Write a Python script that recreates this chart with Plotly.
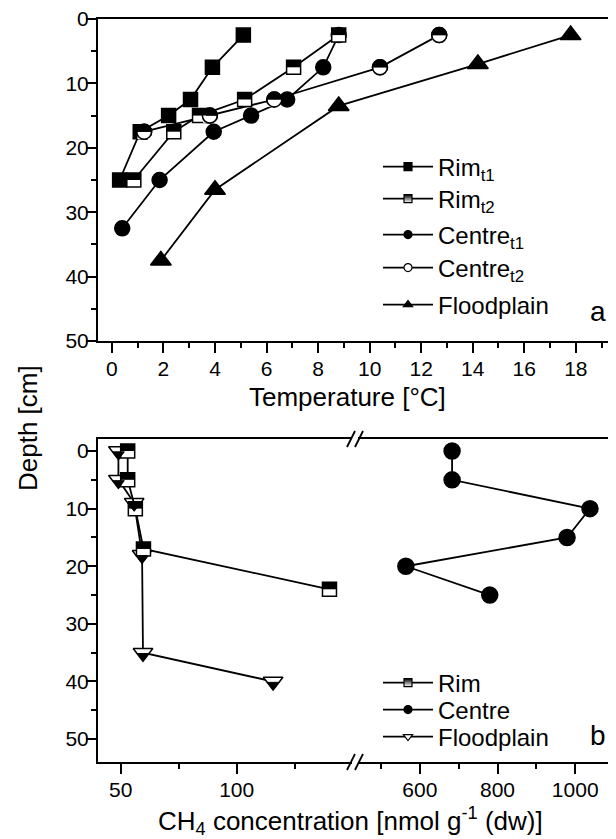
import plotly.graph_objects as go

# ---- panel a: temperature profiles (depth in cm, temperature in degC) ----
RIM_T1_DEPTH = [2.5, 7.5, 12.5, 15, 17.5, 25]
RIM_T1_TEMP = [5.1, 3.9, 3.05, 2.2, 1.1, 0.3]
RIM_T2_DEPTH = [2.5, 7.5, 12.5, 15, 17.5, 25]
RIM_T2_TEMP = [8.8, 7.05, 5.15, 3.4, 2.4, 0.85]
CENTRE_T1_DEPTH = [2.5, 7.5, 12.5, 15, 17.5, 25, 32.5]
CENTRE_T1_TEMP = [8.8, 8.2, 6.8, 5.4, 3.95, 1.85, 0.4]
CENTRE_T2_DEPTH = [2.5, 7.5, 12.5, 15, 17.5]
CENTRE_T2_TEMP = [12.7, 10.4, 6.3, 3.8, 1.25]
FLOOD_T_DEPTH = [2.5, 7, 13.5, 26.5, 37.5]
FLOOD_TEMP = [17.8, 14.2, 8.8, 4.0, 1.9]

# ---- panel b: CH4 concentration profiles (nmol g-1 dw) ----
RIM_CH4_DEPTH = [0, 5, 10, 17, 24]
RIM_CH4 = [53, 53, 56.3, 59.8, 140]
CENTRE_CH4_DEPTH = [0, 5, 10, 15, 20, 25]
CENTRE_CH4 = [683, 683, 1038, 979, 564, 780]
FLOOD_CH4_DEPTH = [0, 5, 9, 18, 35, 40]
FLOOD_CH4 = [49, 49, 55.8, 59.2, 59.6, 115.7]

CH4_LOW_TICKS = [50, 100]
CH4_LOW_MINOR = [75, 125]

# ---- layout geometry (page pixels; the html body adds an 8 px margin) ----
PAGE_OFFSET = 8
FIG_W, FIG_H = 608, 831
MARGIN = dict(l=90, r=0, t=11, b=77)
PLOT_W = FIG_W - MARGIN["l"] - MARGIN["r"]
PLOT_H = FIG_H - MARGIN["t"] - MARGIN["b"]
PLOT_LEFT = PAGE_OFFSET + MARGIN["l"]
PLOT_BOTTOM = PAGE_OFFSET + FIG_H - MARGIN["b"]
TOP_DOMAIN = [0.5666, 1.0]
BOTTOM_DOMAIN = [0.0, 0.4347]
BREAK = 0.4961

TEMP_RANGE = [-0.54, 19.56]
DEPTH_A_RANGE = [50, 0]
CH4_LOW_RANGE = [40.2, 151]
CH4_HIGH_RANGE = [433, 1105]
DEPTH_B_RANGE = [53.97, -2.08]

FONT = "Arial, Liberation Sans, sans-serif"
LINE = dict(color="black", width=1.8)
OUTLINE = dict(color="black", width=1.5)


def px_x(px: float) -> float:
    return (px - PLOT_LEFT) / PLOT_W


def px_y(px: float) -> float:
    return (PLOT_BOTTOM - px) / PLOT_H


def shifted(rng: list[float], domain: list[float], px: float) -> list[float]:
    """Range of an overlay axis whose markers sit ``px`` pixels higher (reversed axis)."""
    per_px = abs(rng[0] - rng[1]) / ((domain[1] - domain[0]) * PLOT_H)
    return [rng[0] + px * per_px, rng[1] + px * per_px]


def profile(x, y, symbol, size, fill, xaxis, yaxis) -> go.Scatter:
    return go.Scatter(
        x=x, y=y, mode="lines+markers", line=LINE,
        marker=dict(symbol=symbol, size=size, color=fill, line=OUTLINE),
        xaxis=xaxis, yaxis=yaxis, showlegend=False, hoverinfo="skip",
    )


def patch(x, y, symbol, size, color, width, xaxis, yaxis) -> go.Scatter:
    """Marker-only trace used to half-fill the symbols of another trace."""
    return go.Scatter(
        x=x, y=y, mode="markers",
        marker=dict(symbol=symbol, size=size, color=color, line=dict(color=color, width=width)),
        xaxis=xaxis, yaxis=yaxis, showlegend=False, hoverinfo="skip",
    )


fig = go.Figure()

# panel a -----------------------------------------------------------------
fig.add_traces([
    profile(FLOOD_TEMP, FLOOD_T_DEPTH, "triangle-up", 18, "black", "x", "y"),
    profile(CENTRE_T1_TEMP, CENTRE_T1_DEPTH, "circle", 15, "black", "x", "y"),
    profile(CENTRE_T2_TEMP, CENTRE_T2_DEPTH, "circle", 15, "black", "x", "y"),
    profile(RIM_T1_TEMP, RIM_T1_DEPTH, "square", 14, "black", "x", "y"),
    profile(RIM_T2_TEMP, RIM_T2_DEPTH, "square", 14, "white", "x", "y"),
    # top half of the Rim t2 squares
    patch(RIM_T2_TEMP, RIM_T2_DEPTH, "line-ew", 10, "black", 7, "x", "y3"),
    # bottom half of the Centre t2 circles blanked, then outline redrawn
    patch(CENTRE_T2_TEMP, CENTRE_T2_DEPTH, "line-ew", 9.6, "white", 7, "x", "y4"),
    go.Scatter(
        x=CENTRE_T2_TEMP, y=CENTRE_T2_DEPTH, mode="markers",
        marker=dict(symbol="circle-open", size=15, color="black", line=dict(color="black", width=1.5)),
        xaxis="x", yaxis="y5", showlegend=False, hoverinfo="skip",
    ),
])

# panel b -----------------------------------------------------------------
fig.add_traces([
    profile(FLOOD_CH4, FLOOD_CH4_DEPTH, "triangle-down", 17, "white", "x2", "y2"),
    profile(RIM_CH4, RIM_CH4_DEPTH, "square", 14, "white", "x2", "y2"),
    profile(CENTRE_CH4, CENTRE_CH4_DEPTH, "circle", 16, "black", "x3", "y2"),
    patch(RIM_CH4, RIM_CH4_DEPTH, "line-ew", 10, "black", 7, "x2", "y6"),
    go.Scatter(
        x=FLOOD_CH4, y=FLOOD_CH4_DEPTH, mode="markers",
        marker=dict(symbol="triangle-down", size=10.2, color="black", line=dict(color="black", width=1)),
        xaxis="x2", yaxis="y7", showlegend=False, hoverinfo="skip",
    ),
])

# legends: one per row so each row sits where the reference puts it --------
LEGEND_ROWS = [
    # name, symbol, fill, gradient, axes, row centre (page px)
    ("Rim<sub>t1</sub>", "square", "black", None, ("x", "y"), 167),
    ("Rim<sub>t2</sub>", "square", "black", "white", ("x", "y"), 199),
    ("Centre<sub>t1</sub>", "circle", "black", None, ("x", "y"), 235),
    ("Centre<sub>t2</sub>", "circle", "white", None, ("x", "y"), 268),
    ("Floodplain", "triangle-up", "black", None, ("x", "y"), 305),
    ("Rim", "square", "black", "white", ("x2", "y2"), 683),
    ("Centre", "circle", "black", None, ("x2", "y2"), 710),
    ("Floodplain", "triangle-down", "white", None, ("x2", "y2"), 737),
]
legend_layout = {}
for i, (name, symbol, fill, gradient, (xa, ya), row_y) in enumerate(LEGEND_ROWS, start=1):
    legend_id = "legend" if i == 1 else f"legend{i}"
    marker = dict(symbol=symbol, size=8, color=fill, line=dict(color="black", width=1.2))
    if gradient:
        marker["gradient"] = dict(type="vertical", color=gradient)
    fig.add_trace(go.Scatter(
        x=[None], y=[None], mode="lines+markers", name=name, line=LINE,
        marker=marker, legend=legend_id, xaxis=xa, yaxis=ya,
    ))
    legend_layout[legend_id] = dict(
        x=px_x(378), y=px_y(row_y), xanchor="left", yanchor="middle", itemwidth=50,
        font=dict(size=24), bgcolor="rgba(0,0,0,0)",
    )

axis_style = dict(
    showline=True, linecolor="black", linewidth=2, showgrid=False, zeroline=False,
    ticks="outside", ticklen=10, tickwidth=2, tickcolor="black",
    tickfont=dict(size=21, color="black"), ticklabeloverflow="allow",
)
x_style = dict(axis_style, ticklabelstandoff=-2, mirror=True)
y_style = dict(axis_style, ticklabelstandoff=-7)
minor_style = dict(ticks="outside", ticklen=5, tickwidth=2, tickcolor="black")
hidden = dict(visible=False, showgrid=False, zeroline=False)

fig.update_layout(
    width=FIG_W, height=FIG_H, margin=MARGIN,
    plot_bgcolor="white", paper_bgcolor="white",
    font=dict(family=FONT, color="black"),
    xaxis=dict(x_style, domain=[0, 1], anchor="y", range=TEMP_RANGE,
               tick0=0, dtick=2, minor=dict(minor_style, dtick=1)),
    yaxis=dict(y_style, domain=TOP_DOMAIN, anchor="x", range=DEPTH_A_RANGE,
               tick0=0, dtick=10, minor=dict(minor_style, dtick=5)),
    xaxis2=dict(x_style, domain=[0, BREAK], anchor="y2", range=CH4_LOW_RANGE,
                tickvals=CH4_LOW_TICKS, minor=dict(minor_style, tickvals=CH4_LOW_MINOR)),
    xaxis3=dict(x_style, domain=[BREAK, 1], anchor="y2", range=CH4_HIGH_RANGE,
                tick0=0, dtick=200, minor=dict(minor_style, dtick=100)),
    yaxis2=dict(y_style, domain=BOTTOM_DOMAIN, anchor="x2", range=DEPTH_B_RANGE,
                tick0=0, dtick=10, minor=dict(minor_style, dtick=5)),
    yaxis3=dict(hidden, overlaying="y", anchor="x", range=shifted(DEPTH_A_RANGE, TOP_DOMAIN, 3.5)),
    yaxis4=dict(hidden, overlaying="y", anchor="x", range=shifted(DEPTH_A_RANGE, TOP_DOMAIN, -3.75)),
    yaxis5=dict(hidden, overlaying="y", anchor="x", range=DEPTH_A_RANGE),
    yaxis6=dict(hidden, overlaying="y2", anchor="x2", range=shifted(DEPTH_B_RANGE, BOTTOM_DOMAIN, 3.5)),
    yaxis7=dict(hidden, overlaying="y2", anchor="x2", range=shifted(DEPTH_B_RANGE, BOTTOM_DOMAIN, -3.4)),
    **legend_layout,
)

annotations = [
    ("Temperature [°C]", px_x(347), px_y(397), 26, 0),
    ("CH<sub>4</sub> concentration [nmol g<sup>-1</sup> (dw)]", px_x(350), px_y(821), 26, 0),
    ("Depth [cm]", px_x(28), px_y(428), 26, -90),
    ("a", px_x(598), px_y(311), 28, 0),
    ("b", px_x(598), px_y(735), 28, 0),
]
for text, x, y, size, angle in annotations:
    fig.add_annotation(text=text, x=x, y=y, xref="paper", yref="paper", showarrow=False,
                       xanchor="center", yanchor="middle", textangle=angle,
                       font=dict(size=size, color="black"))

# axis break marks on the bottom and top lines of panel b
for y_edge in BOTTOM_DOMAIN:
    fig.add_shape(type="line", xref="paper", yref="paper", xsizemode="pixel", ysizemode="pixel",
                  xanchor=BREAK, yanchor=y_edge, x0=-3, x1=3, y0=0, y1=0,
                  line=dict(color="white", width=4))
    for dx in (-4, 4):
        fig.add_shape(type="line", xref="paper", yref="paper", xsizemode="pixel", ysizemode="pixel",
                      xanchor=BREAK, yanchor=y_edge, x0=dx - 4, x1=dx + 4, y0=-8, y1=8,
                      line=dict(color="black", width=1.8))

fig.write_html("out.html")
